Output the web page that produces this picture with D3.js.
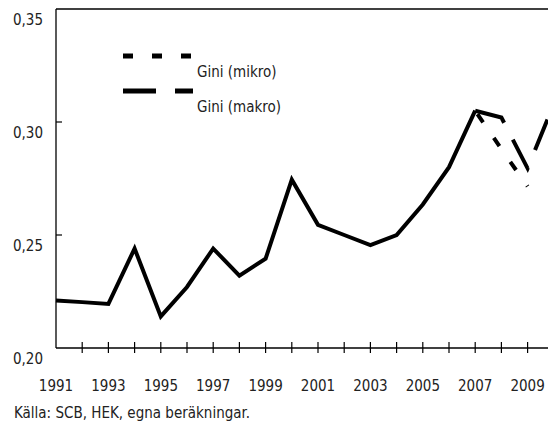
<!DOCTYPE html>
<html>
<head>
<meta charset="utf-8">
<script src="https://cdn.jsdelivr.net/npm/d3@7"></script>
<style>
  body { margin: 0; background: #fff; }
  text { font-family: "Liberation Sans Narrow", "DejaVu Sans", sans-serif; font-stretch: condensed; fill: #222; }
</style>
</head>
<body>
<script>
var svgWidth = 548;
var svgHeight = 423;

// data
var years = [1991, 1992, 1993, 1994, 1995, 1996, 1997, 1998, 1999, 2000,
             2001, 2002, 2003, 2004, 2005, 2006, 2007, 2008, 2009, 2010];
var giniMakro = [0.221, 0.2203, 0.2195, 0.244, 0.214, 0.227, 0.244, 0.232, 0.2395, 0.2745,
                 0.2545, 0.250, 0.2455, 0.250, 0.2635, 0.280, 0.305, 0.302, 0.2795, 0.308];
var giniMikro = [0.221, 0.2203, 0.2195, 0.244, 0.214, 0.227, 0.244, 0.232, 0.2395, 0.2745,
                 0.2545, 0.250, 0.2455, 0.250, 0.2635, 0.280, 0.305, 0.288, 0.2715, null];
var splitYear = 2007;
var yTicks = [0.20, 0.25, 0.30, 0.35];
var xLabelYears = [1991, 1993, 1995, 1997, 1999, 2001, 2003, 2005, 2007, 2009];
var seriesNames = ["Gini (mikro)", "Gini (makro)"];
var sourceText = "Källa: SCB, HEK, egna beräkningar.";

var plotLeft = 56, plotTop = 9, plotBottom = 348;

var x = d3.scaleLinear().domain([1991, 2010]).range([plotLeft, plotLeft + 19 * 26.2]);
var y = d3.scaleLinear().domain([0.20, 0.35]).range([plotBottom, plotTop]);

var svg = d3.select("body")
    .append("svg")
    .attr("width", svgWidth)
    .attr("height", svgHeight);

// frame: y axis, top line, x axis
svg.append("line")
    .attr("x1", plotLeft).attr("x2", plotLeft)
    .attr("y1", y(0.35)).attr("y2", y(0.20))
    .attr("stroke", "#000").attr("stroke-width", 1.3);
svg.append("line")
    .attr("x1", plotLeft).attr("x2", svgWidth)
    .attr("y1", y(0.35)).attr("y2", y(0.35))
    .attr("stroke", "#000").attr("stroke-width", 1.3);
svg.append("line")
    .attr("x1", plotLeft).attr("x2", svgWidth)
    .attr("y1", y(0.20)).attr("y2", y(0.20))
    .attr("stroke", "#000").attr("stroke-width", 1.3);

// y ticks and labels
svg.selectAll(".ytick")
    .data(yTicks.slice(1, 3))
    .enter()
    .append("line")
    .attr("x1", plotLeft).attr("x2", plotLeft + 6)
    .attr("y1", function (d) { return y(d); })
    .attr("y2", function (d) { return y(d); })
    .attr("stroke", "#000").attr("stroke-width", 1.2);

svg.selectAll(".ylab")
    .data(yTicks)
    .enter()
    .append("text")
    .attr("x", 43)
    .attr("y", function (d) { return y(d) + 16; })
    .attr("text-anchor", "end")
    .attr("font-size", "15px")
    .text(function (d) { return d3.format(".2f")(d).replace(".", ","); });

// x ticks crossing the axis
svg.selectAll(".xtick")
    .data(years.slice(1))
    .enter()
    .append("line")
    .attr("x1", function (d) { return x(d); })
    .attr("x2", function (d) { return x(d); })
    .attr("y1", plotBottom - 6).attr("y2", plotBottom + 5)
    .attr("stroke", "#000").attr("stroke-width", 1.2);

svg.selectAll(".xlab")
    .data(xLabelYears)
    .enter()
    .append("text")
    .attr("x", function (d) { return x(d); })
    .attr("y", 391)
    .attr("text-anchor", "middle")
    .attr("font-size", "15px")
    .text(function (d) { return d; });

// lines
var line = d3.line()
    .defined(function (d) { return d.v != null; })
    .x(function (d) { return x(d.year); })
    .y(function (d) { return y(d.v); });

var pairs = function (vals) {
    return years.map(function (yr, i) { return { year: yr, v: vals[i] }; });
};

var common = pairs(giniMakro).filter(function (d) { return d.year <= splitYear; });
var makroTail = pairs(giniMakro).filter(function (d) { return d.year >= splitYear; });
var mikroTail = pairs(giniMikro).filter(function (d) { return d.year >= splitYear && d.v != null; });

svg.append("path")
    .attr("d", line(common))
    .attr("fill", "none").attr("stroke", "#000")
    .attr("stroke-width", 4).attr("stroke-linejoin", "miter");

svg.append("path")
    .attr("d", line(mikroTail))
    .attr("fill", "none").attr("stroke", "#000")
    .attr("stroke-width", 4)
    .attr("stroke-dasharray", "10,19")
    .attr("stroke-dashoffset", -4);

svg.append("path")
    .attr("d", line(makroTail))
    .attr("fill", "none").attr("stroke", "#000")
    .attr("stroke-width", 4)
    .attr("stroke-dasharray", "33,19");

// legend
var legendDash = ["10,19", "33,19"];
var legend = svg.selectAll(".legend")
    .data(seriesNames)
    .enter()
    .append("g")
    .attr("transform", function (d, i) { return "translate(123," + (56 + i * 35) + ")"; });

legend.append("line")
    .attr("x1", 0).attr("x2", 70)
    .attr("y1", 0).attr("y2", 0)
    .attr("stroke", "#000").attr("stroke-width", 5)
    .attr("stroke-dasharray", function (d, i) { return legendDash[i]; });

legend.append("text")
    .attr("x", 74)
    .attr("y", 21)
    .attr("font-size", "15px")
    .text(function (d) { return d; });

svg.append("text")
    .attr("x", 14)
    .attr("y", 418)
    .attr("font-size", "15px")
    .text(sourceText);
</script>
</body>
</html>
